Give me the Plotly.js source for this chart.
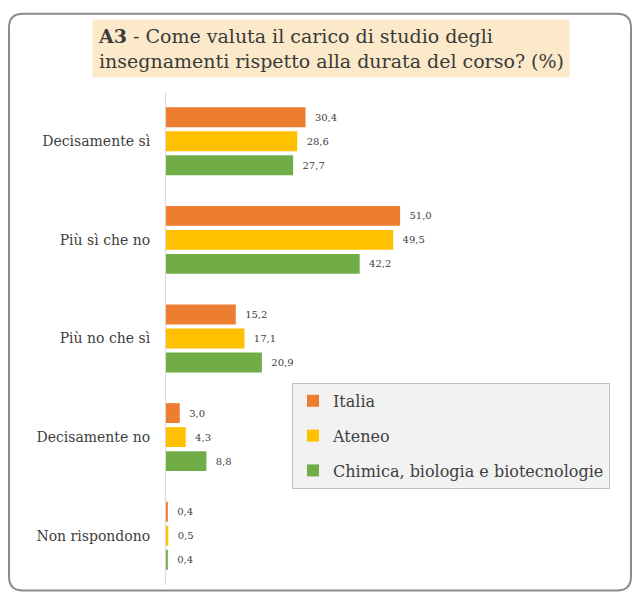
<!DOCTYPE html>
<html>
<head>
<meta charset="utf-8">
<script src="https://cdn.plot.ly/plotly-3.0.1.min.js"></script>
<style>html,body{margin:0;padding:0;background:#fff;}#chart{width:632px;height:594px;}</style>
</head>
<body>
<div id="chart"></div>
<script>
const categories = ["Decisamente sì", "Più sì che no", "Più no che sì", "Decisamente no", "Non rispondono"];
const seriesNames = ["Italia", "Ateneo", "Chimica, biologia e biotecnologie"];
const italia = [30.4, 51.0, 15.2, 3.0, 0.4];
const ateneo = [28.6, 49.5, 17.1, 4.3, 0.5];
const chimica = [27.7, 42.2, 20.9, 8.8, 0.4];
const colors = ["#ED7D31", "#FFC000", "#70AD47"];
const titleBold = "A3";
const titleRest = " - Come valuta il carico di studio degli<br>insegnamenti rispetto alla durata del corso? (%)";

const W = 632, H = 594;
const L = 166, R = 7, T = 91.5, B = 8.5;
const pw = W - L - R, ph = H - T - B;
const px = x => (x - L) / pw;
const py = y => (H - B - y) / ph;

const FONT = "DejaVu Serif";
const allSeries = [italia, ateneo, chimica];
const traces = allSeries.map((vals, i) => ({
  type: "bar",
  orientation: "h",
  name: seriesNames[i],
  legendgroup: "g" + i,
  x: vals,
  y: categories,
  marker: {color: colors[i]},
  texttemplate: "\u00a0\u00a0%{x:.1f}",
  textposition: "outside",
  textfont: {family: FONT, size: 10, color: "#404040"},
  cliponaxis: false,
  hoverinfo: "skip"
}));

function framePath(x0, y0, x1, y1, r) {
  const P = (x, y) => px(x) + "," + py(y);
  return "M" + P(x0 + r, y0) + " L" + P(x1 - r, y0) + " Q" + P(x1, y0) + " " + P(x1, y0 + r) +
    " L" + P(x1, y1 - r) + " Q" + P(x1, y1) + " " + P(x1 - r, y1) +
    " L" + P(x0 + r, y1) + " Q" + P(x0, y1) + " " + P(x0, y1 - r) +
    " L" + P(x0, y0 + r) + " Q" + P(x0, y0) + " " + P(x0 + r, y0) + " Z";
}

const layout = {
  width: W, height: H,
  margin: {l: L, r: R, t: T, b: B, pad: 0},
  paper_bgcolor: "#ffffff",
  plot_bgcolor: "rgba(0,0,0,0)",
  separators: ",.",
  font: {family: FONT, color: "#404040"},
  barmode: "group",
  bargap: 0.27,
  bargroupgap: 0.17,
  showlegend: true,
  legend: {
    x: px(292), y: py(383), xanchor: "left", yanchor: "top",
    bgcolor: "#f2f2f2", bordercolor: "#bfbfbf", borderwidth: 1,
    font: {family: FONT, size: 16, color: "#404040"},
    traceorder: "grouped", tracegroupgap: 11,
    itemwidth: 30
  },
  xaxis: {range: [0, 100], showticklabels: false, showgrid: false, zeroline: false, showline: false, fixedrange: true},
  yaxis: {
    type: "category", autorange: "reversed",
    showline: true, linecolor: "#d9d9d9", linewidth: 1,
    ticks: "", ticklabelstandoff: 12,
    tickfont: {family: FONT, size: 14, color: "#404040"},
    showgrid: false, zeroline: false
  },
  annotations: [{
    xref: "paper", yref: "paper",
    x: px(92), y: py(18), xanchor: "left", yanchor: "top",
    text: "<b>" + titleBold + "</b>" + titleRest,
    align: "left", showarrow: false,
    bgcolor: "#fbe9c9", borderpad: 5,
    font: {family: FONT, size: 19, color: "#3a3a3a"}
  }],
  shapes: [{
    type: "path", xref: "paper", yref: "paper",
    path: framePath(9, 13, 631, 591, 14),
    line: {color: "#8c8c8c", width: 2},
    fillcolor: "rgba(0,0,0,0)",
    layer: "below"
  }]
};

Plotly.newPlot("chart", traces, layout, {displayModeBar: false, staticPlot: true});
</script>
</body>
</html>
